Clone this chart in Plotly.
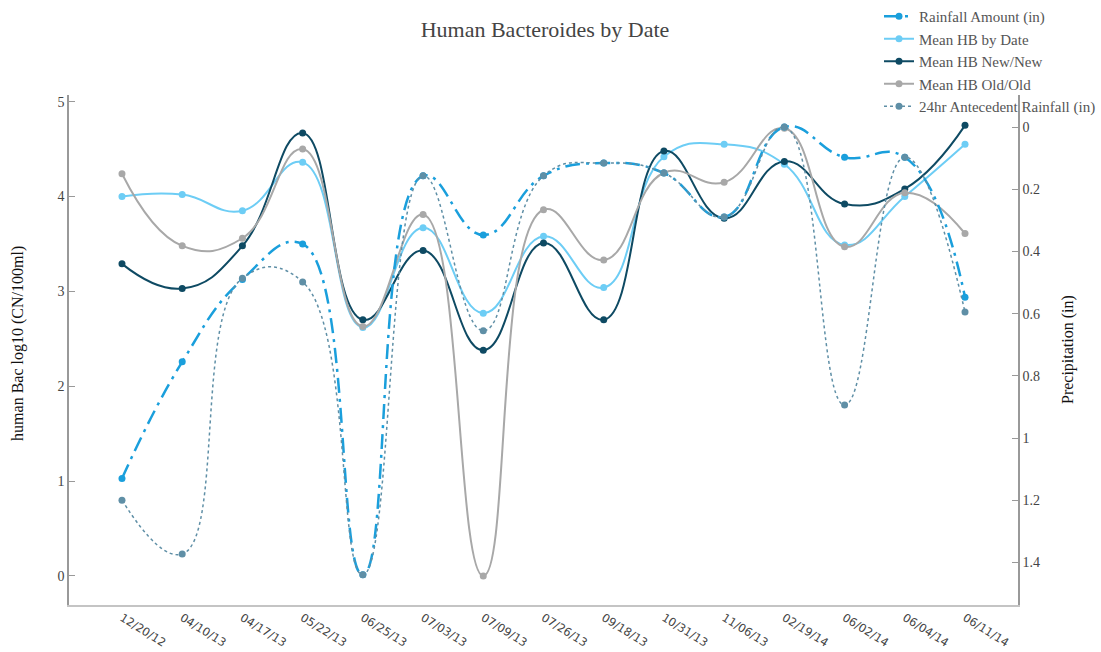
import plotly.graph_objects as go

dates = ["12/20/12", "04/10/13", "04/17/13", "05/22/13", "06/25/13", "07/03/13", "07/09/13",
         "07/26/13", "09/18/13", "10/31/13", "11/06/13", "02/19/14", "06/02/14", "06/04/14", "06/11/14"]

rainfall_amount = [1.13, 0.755, 0.49, 0.376, 1.44, 0.157, 0.347, 0.157, 0.116, 0.148, 0.289, 0.0, 0.097, 0.097, 0.547]
mean_hb_by_date = [4.0, 4.02, 3.85, 4.36, 2.62, 3.67, 2.77, 3.58, 3.04, 4.42, 4.55, 4.34, 3.49, 4.0, 4.55]
mean_hb_new_new = [3.29, 3.03, 3.48, 4.67, 2.70, 3.43, 2.38, 3.51, 2.70, 4.48, 3.77, 4.37, 3.92, 4.08, 4.75]
mean_hb_old_old = [4.24, 3.48, 3.56, 4.50, 2.63, 3.81, 0.0, 3.86, 3.33, 4.25, 4.15, 4.72, 3.47, 4.04, 3.61]
antecedent_24hr = [1.20, 1.373, 0.486, 0.498, 1.44, 0.157, 0.655, 0.157, 0.116, 0.148, 0.289, 0.0, 0.894, 0.097, 0.595]

x = list(range(len(dates)))
SERIF = "Liberation Serif, Times New Roman, serif"

fig = go.Figure()
fig.add_trace(go.Scatter(x=x, y=rainfall_amount, name="Rainfall Amount (in)", yaxis="y2",
                         mode="lines+markers", line=dict(color="#1a9fdc", width=2.5, dash="longdashdot", shape="spline", smoothing=1.3),
                         marker=dict(size=7, color="#1a9fdc")))
fig.add_trace(go.Scatter(x=x, y=mean_hb_by_date, name="Mean HB by Date",
                         mode="lines+markers", line=dict(color="#6dcdf5", width=2, shape="spline", smoothing=1.3),
                         marker=dict(size=7, color="#6dcdf5")))
fig.add_trace(go.Scatter(x=x, y=mean_hb_new_new, name="Mean HB New/New",
                         mode="lines+markers", line=dict(color="#0e4a63", width=2, shape="spline", smoothing=1.3),
                         marker=dict(size=7, color="#0e4a63")))
fig.add_trace(go.Scatter(x=x, y=mean_hb_old_old, name="Mean HB Old/Old",
                         mode="lines+markers", line=dict(color="#a8a8a8", width=2, shape="spline", smoothing=1.3),
                         marker=dict(size=7, color="#a8a8a8")))
fig.add_trace(go.Scatter(x=x, y=antecedent_24hr, name="24hr Antecedent Rainfall (in)", yaxis="y2",
                         mode="lines+markers", line=dict(color="#5f8fa6", width=1.5, dash="dot", shape="spline", smoothing=1.3),
                         marker=dict(size=7, color="#5f8fa6")))

fig.update_layout(
    width=1101, height=652,
    paper_bgcolor="white", plot_bgcolor="white",
    margin=dict(l=69, r=83, t=95, b=47, autoexpand=False),
    title=dict(text="Human Bacteroides by Date", x=0.495, xanchor="center", y=0.955, yanchor="middle",
               font=dict(family=SERIF, size=22, color="#444")),
    font=dict(family=SERIF, color="#444"),
    showlegend=True,
    legend=dict(x=1.0, y=1.021, xref="container", yref="container", xanchor="right", yanchor="top",
                font=dict(family=SERIF, size=15, color="#555"), bgcolor="rgba(0,0,0,0)"),
    xaxis=dict(range=[-0.88, 14.88], tickmode="array", tickvals=x, ticktext=dates, tickangle=32,
               showgrid=False, zeroline=False, showline=True, linecolor="#c4c4c4", linewidth=1.5,
               ticks="", tickfont=dict(family="DejaVu Sans, sans-serif", size=11.5, color="#444")),
    yaxis=dict(range=[-0.306, 5.07], tickvals=[0, 1, 2, 3, 4, 5], showgrid=False, zeroline=False,
               showline=True, linecolor="#999", linewidth=1.5, ticks="inside", ticklen=6, tickcolor="#999",
               tickfont=dict(family=SERIF, size=14, color="#444")),
    yaxis2=dict(range=[1.537, -0.103], overlaying="y", side="right", tickvals=[0, 0.2, 0.4, 0.6, 0.8, 1, 1.2, 1.4],
                showgrid=False, zeroline=False, showline=True, linecolor="#999", linewidth=1.5,
                ticks="inside", ticklen=6, tickcolor="#999",
                tickfont=dict(family=SERIF, size=14, color="#444")),
    annotations=[
        dict(text="human Bac log10 (CN/100ml)", xref="paper", yref="paper", x=(18 - 69) / 949, y=0.512,
             xanchor="center", yanchor="middle", textangle=-90, showarrow=False,
             font=dict(family=SERIF, size=16, color="#111")),
        dict(text="Precipitation (in)", xref="paper", yref="paper", x=(1068 - 69) / 949, y=0.5,
             xanchor="center", yanchor="middle", textangle=-90, showarrow=False,
             font=dict(family=SERIF, size=16, color="#111")),
    ],
)

fig.write_html("out.html", config={"displayModeBar": False},
               post_script="document.body.style.margin='0';document.body.style.padding='0';")
